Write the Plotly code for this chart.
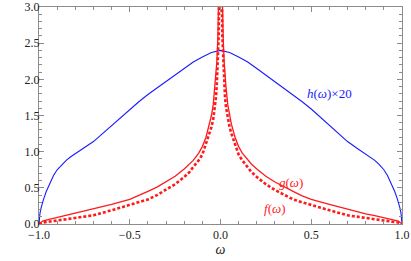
import plotly.graph_objects as go

# h(omega) x 20 (blue)
h_w = [-1.0, -0.998, -0.995, -0.99, -0.985, -0.975, -0.96, -0.94, -0.92, -0.9, -0.875, -0.85, -0.825,
       -0.8, -0.775, -0.75, -0.7, -0.65, -0.6, -0.55, -0.5, -0.45, -0.4, -0.35, -0.3, -0.25, -0.2,
       -0.15, -0.1, -0.05, 0.0, 0.05, 0.1, 0.15, 0.2, 0.25, 0.3, 0.35, 0.4, 0.45, 0.5, 0.55, 0.6,
       0.65, 0.7, 0.75, 0.775, 0.8, 0.825, 0.85, 0.875, 0.9, 0.92, 0.94, 0.96, 0.975, 0.985, 0.99,
       0.995, 0.998, 1.0]
h_v = [0.0, 0.08, 0.14, 0.21, 0.26, 0.34, 0.45, 0.57, 0.67, 0.75, 0.82, 0.88, 0.93,
       0.97, 1.01, 1.05, 1.14, 1.25, 1.36, 1.48, 1.59, 1.69, 1.79, 1.88, 1.96, 2.06, 2.15,
       2.24, 2.31, 2.37, 2.40, 2.37, 2.31, 2.24, 2.15, 2.06, 1.96, 1.88, 1.79, 1.69, 1.59, 1.48, 1.36,
       1.25, 1.14, 1.05, 1.01, 0.97, 0.93, 0.88, 0.82, 0.75, 0.67, 0.57, 0.45, 0.34, 0.26, 0.21,
       0.14, 0.08, 0.0]

# g(omega) (red solid)
g_w = [-1.0, -0.98, -0.95, -0.9, -0.85, -0.8, -0.7, -0.6, -0.5, -0.45, -0.4, -0.35, -0.3, -0.25,
       -0.2, -0.17, -0.15, -0.12, -0.1, -0.08, -0.06, -0.05, -0.04, -0.03, -0.025, -0.02, -0.015,
       -0.01, -0.007,
       0.007, 0.01, 0.015, 0.02, 0.025, 0.03, 0.04, 0.05, 0.06, 0.08, 0.1, 0.12, 0.15, 0.17, 0.2,
       0.25, 0.3, 0.35, 0.4, 0.45, 0.5, 0.6, 0.7, 0.8, 0.85, 0.9, 0.95, 0.98, 1.0]
g_v = [0.0, 0.04, 0.06, 0.09, 0.115, 0.14, 0.20, 0.27, 0.34, 0.39, 0.45, 0.51, 0.58, 0.66,
       0.76, 0.83, 0.88, 0.98, 1.07, 1.20, 1.38, 1.50, 1.65, 1.90, 2.05, 2.25, 2.55,
       3.0, 3.5,
       3.5, 3.0, 2.55, 2.25, 2.05, 1.90, 1.65, 1.50, 1.38, 1.20, 1.07, 0.98, 0.88, 0.83, 0.76,
       0.66, 0.58, 0.51, 0.45, 0.39, 0.34, 0.27, 0.20, 0.14, 0.115, 0.09, 0.06, 0.04, 0.0]

# f(omega) (red dotted)
f_w = [-1.0, -0.98, -0.95, -0.9, -0.85, -0.8, -0.7, -0.6, -0.5, -0.45, -0.4, -0.35, -0.3, -0.25,
       -0.2, -0.17, -0.15, -0.12, -0.1, -0.08, -0.06, -0.05, -0.04, -0.03, -0.025, -0.02, -0.015,
       -0.01, -0.006,
       0.006, 0.01, 0.015, 0.02, 0.025, 0.03, 0.04, 0.05, 0.06, 0.08, 0.1, 0.12, 0.15, 0.17, 0.2,
       0.25, 0.3, 0.35, 0.4, 0.45, 0.5, 0.6, 0.7, 0.8, 0.85, 0.9, 0.95, 0.98, 1.0]
f_v = [0.0, 0.02, 0.03, 0.05, 0.065, 0.08, 0.12, 0.19, 0.26, 0.30, 0.34, 0.40, 0.47, 0.55,
       0.65, 0.72, 0.79, 0.88, 0.96, 1.10, 1.25, 1.34, 1.45, 1.62, 1.75, 1.95, 2.25,
       2.6, 3.5,
       3.5, 2.6, 2.25, 1.95, 1.75, 1.62, 1.45, 1.34, 1.25, 1.10, 0.96, 0.88, 0.79, 0.72, 0.65,
       0.55, 0.47, 0.40, 0.34, 0.30, 0.26, 0.19, 0.12, 0.08, 0.065, 0.05, 0.03, 0.02, 0.0]

x_ticks = [-1.0, -0.5, 0.0, 0.5, 1.0]
x_labels = ["\u22121.0", "\u22120.5", "0.0", "0.5", "1.0"]
y_ticks = [0.0, 0.5, 1.0, 1.5, 2.0, 2.5, 3.0]
y_labels = ["0.0", "0.5", "1.0", "1.5", "2.0", "2.5", "3.0"]

fig = go.Figure()
fig.add_trace(go.Scatter(x=h_w, y=h_v, mode="lines", line=dict(color="#1a1aff", width=1.1),
                         showlegend=False))
fig.add_trace(go.Scatter(x=g_w, y=g_v, mode="lines", line=dict(color="#ff1a1a", width=1.3),
                         showlegend=False))
fig.add_trace(go.Scatter(x=f_w, y=f_v, mode="lines",
                         line=dict(color="#ff1a1a", width=2.6, dash="3px,2px"),
                         showlegend=False))

font_fam = "'Liberation Serif', 'Times New Roman', serif"
fig.add_annotation(x=0.60, y=1.80, text="<i>h</i>(<i>\u03c9</i>)\u00d720", showarrow=False,
                   font=dict(family=font_fam, size=13, color="#1a1aff"))
fig.add_annotation(x=0.39, y=0.58, text="<i>g</i>(<i>\u03c9</i>)", showarrow=False,
                   font=dict(family=font_fam, size=13, color="#ff1a1a"))
fig.add_annotation(x=0.30, y=0.22, text="<i>f</i>(<i>\u03c9</i>)", showarrow=False,
                   font=dict(family=font_fam, size=13, color="#ff1a1a"))

axis_common = dict(showline=True, linecolor="#8c8c8c", linewidth=1, mirror="ticks", ticks="inside",
                   ticklen=5, tickcolor="#8c8c8c", showgrid=False, zeroline=False, automargin=False,
                   ticklabeloverflow="allow",
                   tickfont=dict(family=font_fam, size=12, color="#222"))
fig.update_xaxes(range=[-1, 1], tickvals=x_ticks, ticktext=x_labels, ticklabelstandoff=0,
                 minor=dict(dtick=0.1, tick0=0, ticks="inside", ticklen=3, tickcolor="#8c8c8c", showgrid=False),
                 title=dict(text="<i>\u03c9</i>", font=dict(family=font_fam, size=14, color="#222"), standoff=0),
                 **axis_common)
fig.update_yaxes(range=[0, 3], tickvals=y_ticks, ticktext=y_labels, ticklabelstandoff=-4,
                 minor=dict(dtick=0.1, tick0=0, ticks="inside", ticklen=3, tickcolor="#8c8c8c", showgrid=False),
                 **axis_common)
fig.update_layout(width=411, height=261, margin=dict(l=39, r=9, t=7, b=37),
                  plot_bgcolor="white", paper_bgcolor="white", font=dict(family=font_fam))
fig.write_html("out.html", config={"displayModeBar": False},
               post_script="document.body.style.margin='0';")
